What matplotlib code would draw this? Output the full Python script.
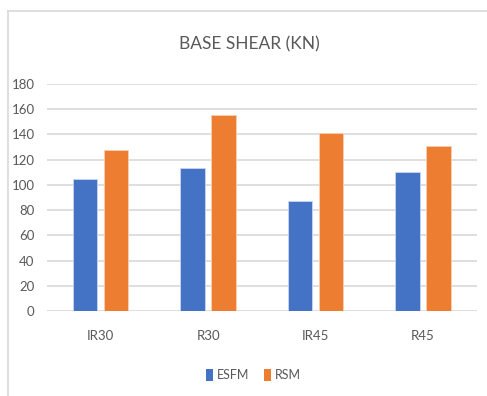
import numpy as np
import matplotlib.pyplot as plt
from matplotlib.lines import Line2D
from matplotlib.patches import Patch

categories = ['IR30', 'R30', 'IR45', 'R45']
esfm = [105, 113, 87, 110]
rsm = [128, 155, 141, 131]
yticks = [0, 20, 40, 60, 80, 100, 120, 140, 160, 180]

blue = '#4472C4'
orange = '#ED7D31'
text_grey = '#595959'

plt.rcParams['font.family'] = ['Lato', 'DejaVu Sans']

fig = plt.figure(figsize=(4.87, 3.96), dpi=100)
ax = fig.add_axes([0.0965, 0.2146, 0.8825, 0.5734])

# chart frame (left and top edges only)
fig.add_artist(Line2D([8 / 487, 8 / 487], [-0.01, 1 - 11 / 396], color='#d9d9d9', lw=1.2))
fig.add_artist(Line2D([8 / 487, 1.02], [1 - 11 / 396, 1 - 11 / 396], color='#d9d9d9', lw=1.2))

x = np.arange(len(categories))
w = 0.228
off = 0.144
ax.bar(x - off, esfm, w, color=blue, edgecolor='#c9d6ef', linewidth=0.6, zorder=3, label='ESFM')
ax.bar(x + off, rsm, w, color=orange, edgecolor='#f8cfb3', linewidth=0.6, zorder=3, label='RSM')

ax.set_xlim(-0.5, len(categories) - 0.5)
ax.set_ylim(0, 180)
ax.set_yticks(yticks)
ax.set_xticks(x)
ax.set_xticklabels(categories)
ax.grid(axis='y', color='#d9d9d9', lw=1.2, zorder=0)
for s in ax.spines.values():
    s.set_visible(False)
ax.tick_params(length=0, colors=text_grey, labelsize=9.5)
ax.tick_params(axis='x', pad=14)
ax.tick_params(axis='y', pad=9)

fig.text(0.513, 0.887, 'BASE SHEAR (KN)', ha='center', va='center', fontsize=12.5, color=text_grey)

handles = [Patch(facecolor=blue), Patch(facecolor=orange)]
fig.legend(handles, ['ESFM', 'RSM'], loc='center', bbox_to_anchor=(0.52, 0.053), ncol=2,
           frameon=False, fontsize=9, handlelength=0.55, handleheight=1.1,
           handletextpad=0.3, columnspacing=1.2, labelcolor=text_grey)

fig.savefig('out.png', dpi=100)
